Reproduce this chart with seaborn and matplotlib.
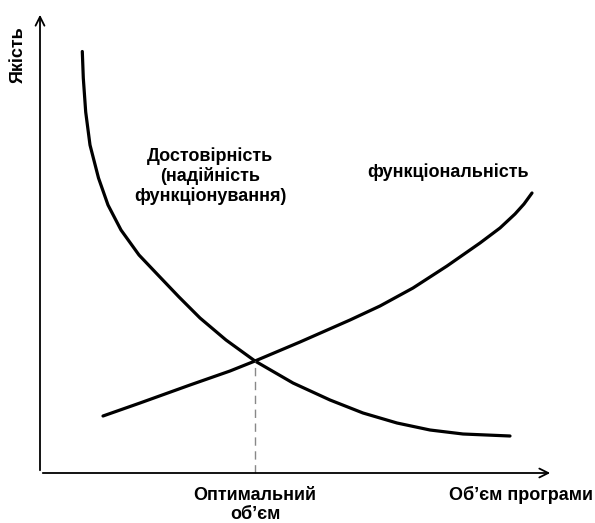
import numpy as np
import pandas as pd
import matplotlib.pyplot as plt
import seaborn as sns

# ==========================================
# Data (arbitrary units)
# ==========================================

# reliability curve (falls with program size)
rel_x = [42.3, 43.3, 45.7, 50, 58.5, 68, 81, 99, 118, 139, 160, 186, 215,
         253, 290, 323, 357, 390, 423, 470]
rel_y = [421.5, 395, 361, 328, 295, 268, 243, 218, 198, 176, 155, 133, 112,
         90, 73, 60, 50, 43, 39, 37]

# functionality curve (grows with program size)
fun_x = [63, 100, 150, 190, 215, 260, 310, 340, 373, 407, 440, 460, 475, 484, 492]
fun_y = [57, 70, 88, 102, 112, 131, 153, 167, 185, 207, 230, 245, 259, 269, 280]

opt_x = 215
opt_y = 112

x_end = 513
y_end = 461

# ==========================================
# Plot
# ==========================================

sns.set_style("white")
plt.rcParams["font.family"] = ["Liberation Sans", "DejaVu Sans"]
plt.rcParams["font.weight"] = "bold"
plt.rcParams["text.color"] = "black"

fig = plt.figure(figsize=(5.95, 5.23), dpi=100)
ax = fig.add_axes([0, 0, 1, 1])
ax.set_xlim(-40, 555)
ax.set_ylim(-50, 473)
ax.axis("off")

rel = pd.DataFrame({"x": rel_x, "y": rel_y})
fun = pd.DataFrame({"x": fun_x, "y": fun_y})

sns.lineplot(data=rel, x="x", y="y", color="black", linewidth=2.3, sort=False, ax=ax)
sns.lineplot(data=fun, x="x", y="y", color="black", linewidth=2.3, sort=False, ax=ax)

# dashed line at the optimum
ax.plot([opt_x, opt_x], [0, opt_y], color="#888888", linestyle=(0, (6, 4)), linewidth=1)

# axes with arrows
ax.annotate("", xy=(x_end, 0), xytext=(0, 0),
            arrowprops=dict(arrowstyle="->", color="black", lw=1.3, mutation_scale=16))
ax.annotate("", xy=(0, y_end), xytext=(0, 0),
            arrowprops=dict(arrowstyle="->", color="black", lw=1.3, mutation_scale=16))

fs = 13
ax.text(-22, 418, "Якість", rotation=90, ha="center", va="center", fontsize=fs, fontweight="bold")
ax.text(553, -22, "Об’єм програми", ha="right", va="center", fontsize=fs, fontweight="bold")
ax.text(opt_x, -32, "Оптимальний\nоб’єм", ha="center", va="center", fontsize=fs,
        fontweight="bold", linespacing=1.15)
ax.text(170, 297, "Достовірність\n(надійність\nфункціонування)", ha="center", va="center",
        fontsize=fs, fontweight="bold", linespacing=1.15)
ax.text(408, 301, "функціональність", ha="center", va="center", fontsize=fs, fontweight="bold")

plt.savefig("out.png", dpi=100)
